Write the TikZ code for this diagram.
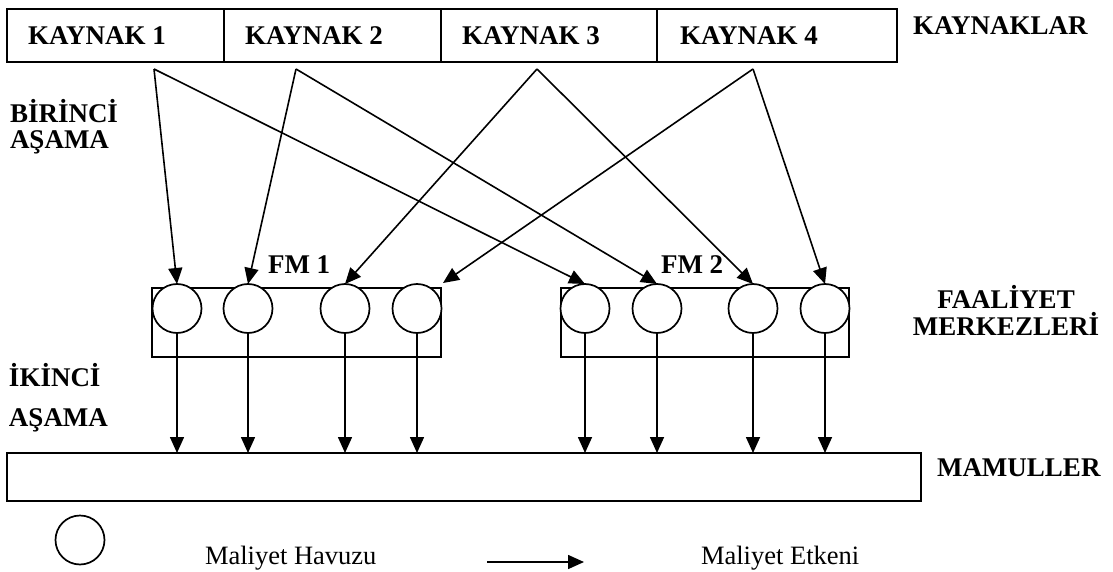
\documentclass[tikz,border=0pt]{standalone}
\usepackage{fontspec}
\setmainfont{Liberation Serif}
\usetikzlibrary{arrows.meta}
\begin{document}
\begin{tikzpicture}[x=1pt,y=-1pt,
  every node/.style={inner sep=0pt, outer sep=0pt},
  box/.style={draw, line width=1.8pt, anchor=north west},
  pool/.style={draw, line width=1.7pt, fill=white, circle, minimum size=49pt},
  lbl/.style={anchor=base west, font=\fontsize{27}{28}\selectfont\bfseries},
  note/.style={anchor=base west, font=\fontsize{26.5}{27}\selectfont},
  driver/.style={line width=1.6pt, -{Triangle[length=16pt,width=14pt]}}]
\useasboundingbox (0,0) rectangle (1113,572);

% resource row
\node[box, minimum width=217pt, minimum height=53pt] (k1) at (7,9) {};
\node[box, minimum width=217pt, minimum height=53pt] (k2) at (224,9) {};
\node[box, minimum width=216pt, minimum height=53pt] (k3) at (441,9) {};
\node[box, minimum width=240pt, minimum height=53pt] (k4) at (657,9) {};
\node[lbl] (k1t) at (28,45) {KAYNAK 1};
\node[lbl] (k2t) at (245,45) {KAYNAK 2};
\node[lbl] (k3t) at (462,45) {KAYNAK 3};
\node[lbl] (k4t) at (680,45) {KAYNAK 4};
\node[lbl] (kl) at (913,35) {KAYNAKLAR};

% stage labels
\node[lbl] (b1) at (10,123) {BİRİNCİ};
\node[lbl] (b2) at (10,149) {AŞAMA};
\node[lbl] (i1) at (9,386) {İKİNCİ};
\node[lbl] (i2) at (9,426) {AŞAMA};

% activity centres
\node[box, minimum width=289pt, minimum height=69pt] (fm1) at (152,288) {};
\node[box, minimum width=288pt, minimum height=69pt] (fm2) at (561,288) {};
\node[lbl] (fm1t) at (268,273) {FM 1};
\node[lbl] (fm2t) at (661,273) {FM 2};
\node[lbl, anchor=base] (fa1) at (1006,308) {FAALİYET};
\node[lbl, anchor=base] (fa2) at (1006,335) {MERKEZLERİ};

\node[pool] (c11) at (177,308.5) {};
\node[pool] (c12) at (248,308.5) {};
\node[pool] (c13) at (345,308.5) {};
\node[pool] (c14) at (417,308.5) {};
\node[pool] (c21) at (585,308.5) {};
\node[pool] (c22) at (657,308.5) {};
\node[pool] (c23) at (753,308.5) {};
\node[pool] (c24) at (825,308.5) {};

% products
\node[box, minimum width=914pt, minimum height=48pt] (mam) at (7,453) {};
\node[lbl] (mamt) at (937,476) {MAMULLER};

% first stage drivers
\coordinate (s1) at (154,69);
\coordinate (s2) at (296,69);
\coordinate (s3) at (537,69);
\coordinate (s4) at (753,69);
\coordinate (fm1c) at (443,283);
\draw[driver] (s1) -- (c11.north);
\draw[driver] (s1) -- (c21.north);
\draw[driver] (s2) -- (c12.north);
\draw[driver] (s2) -- (c22.north);
\draw[driver] (s3) -- (c13.north);
\draw[driver] (s3) -- (c23.north);
\draw[driver] (s4) -- (fm1c);
\draw[driver] (s4) -- (c24.north);

% second stage drivers
\foreach \c in {c11,c12,c13,c14,c21,c22,c23,c24}
  \draw[driver] (\c.south) -- (\c.south |- mam.north);

% legend
\node[pool] (lc) at (80,540) {};
\node[note] (lct) at (205,564) {Maliyet Havuzu};
\coordinate (la) at (487,562);
\coordinate (lb) at (584,562);
\draw[driver] (la) -- (lb);
\node[note] (lat) at (701,564) {Maliyet Etkeni};
\end{tikzpicture}
\end{document}
